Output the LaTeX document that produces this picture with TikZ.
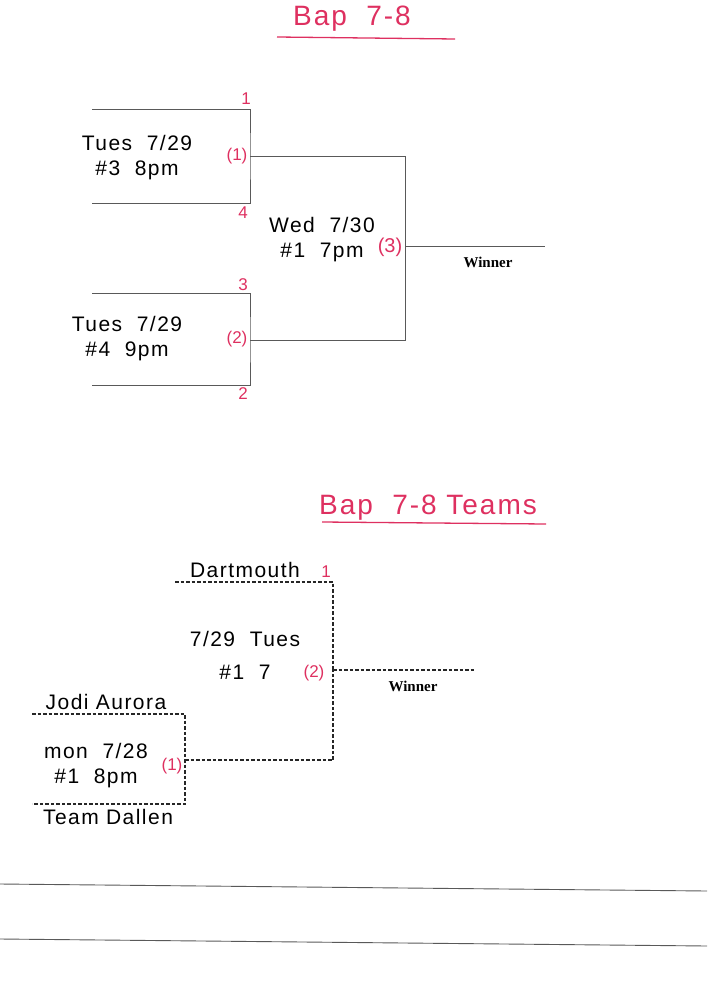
\documentclass[tikz,border=0pt]{standalone}
\usepackage{fontspec}
\setmainfont{Liberation Sans}
\newfontfamily\handfont[LetterSpace=7]{Liberation Sans}
\newfontfamily\winfont{Liberation Serif}
\usetikzlibrary{calc}
\definecolor{ink}{RGB}{222,48,96}
\tikzset{
  hand/.style={font=\handfont\fontsize{21}{25}\selectfont, align=center},
  seed/.style={text=ink, font=\fontsize{17}{18}\selectfont},
  title/.style={text=ink, font=\handfont\fontsize{28}{30}\selectfont},
  winlab/.style={font=\winfont\bfseries\fontsize{15}{16}\selectfont},
  bline/.style={gray!70!black, line width=0.8pt},
  dline/.style={black!85, line width=1.1pt, dash pattern=on 3.5pt off 2pt},
}

\begin{document}
\begin{tikzpicture}[x=1pt, y=-1pt]
            \useasboundingbox (0,0) rectangle (707,1000);
            % top bracket
            \node[title] (title1) at (352,19) {Bap\ \ 7-8};
            \draw[ink, line width=1.3pt] (277,37) -- (455,39);
            \coordinate (t1) at (92,109);
            \coordinate (t4) at (92,203);
            \coordinate (t3) at (92,293);
            \coordinate (t2) at (92,385);
            \coordinate (m1) at (250,156);
            \coordinate (m2) at (250,340);
            \coordinate (fin) at (405,246);
            \coordinate (win) at (545,246);
            \draw[bline] (t1) -| (m1) |- (t4);
            \draw[bline] (t3) -| (m2) |- (t2);
            \draw[bline] (m1) -| (fin);
            \draw[bline] (m2) -| (fin);
            \draw[bline] (fin) -- (win);
            \node[seed] (s1) at (246,99) {1};
            \node[seed] (s4) at (243,213) {4};
            \node[seed] (s3) at (243,285) {3};
            \node[seed] (s2) at (243,394) {2};
            \node[seed] (g1) at (237,156) {(1)};
            \node[seed] (g2) at (237,339) {(2)};
            \node[seed, font=\fontsize{20}{21}\selectfont] (g3) at (390,247) {(3)};
            \node[hand] (gm1) at (137,158) {Tues\ \ 7/29\\\#3\ \ 8pm};
            \node[hand] (gm2) at (127,339) {Tues\ \ 7/29\\\#4\ \ 9pm};
            \node[hand] (gm3) at (322,240) {Wed\ \ 7/30\\\#1\ \ 7pm};
            \node[winlab] (w1) at (488,262) {Winner};
            % teams bracket
            \node[title] (title2) at (428,508) {Bap\ \ 7-8 Teams};
            \draw[ink, line width=1.3pt] (322,522) -- (546,524);
            \coordinate (d1) at (175,582);
            \coordinate (j1) at (32,714);
            \coordinate (j2) at (32,804);
            \coordinate (q1) at (185,760);
            \coordinate (q2) at (333,670);
            \coordinate (win2) at (475,670);
            \draw[dline] (d1) -| (q2);
            \draw[dline] (j1) -| (q1) |- (j2);
            \draw[dline] (q1) -| (q2);
            \draw[dline] (q2) -- (win2);
            \node[hand] (dart) at (245,570) {Dartmouth};
            \node[seed] (r1) at (326,572) {1};
            \node[hand] (jodi) at (106,702) {Jodi Aurora};
            \node[hand] (dallen) at (108,817) {Team Dallen};
            \node[hand] (gm4) at (245,655) {7/29\ \ Tues\\[8pt]\#1\ \ 7};
            \node[hand] (gm5) at (96,766) {mon\ \ 7/28\\\#1\ \ 8pm};
            \node[seed] (g4) at (172,766) {(1)};
            \node[seed] (g5) at (314,673) {(2)};
            \node[winlab] (w2) at (413,686) {Winner};
            % page edge lines
            \draw[gray!70!black, line width=0.9pt] (0,884) -- (707,891);
            \draw[gray!70!black, line width=0.9pt] (0,939) -- (707,946);
        \end{tikzpicture}
\end{document}
